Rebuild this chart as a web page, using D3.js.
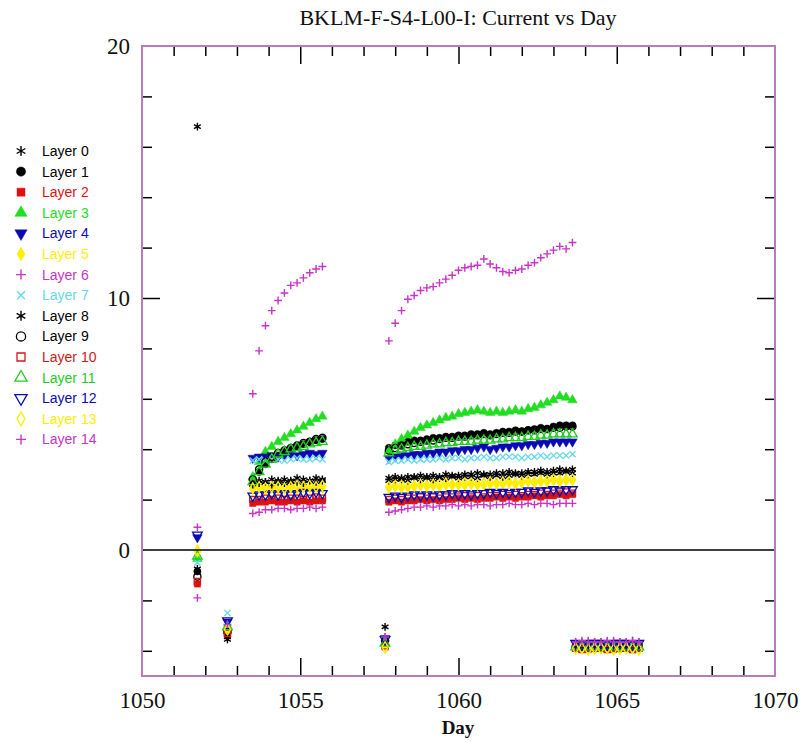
<!DOCTYPE html>
<html><head><meta charset="utf-8">
<script src="https://cdn.jsdelivr.net/npm/d3@7"></script>
<style>body{margin:0;background:#fff}</style></head>
<body><svg id="c" width="804" height="742"></svg>
<script>
const days=[1051.75,1052.7,
 1053.5,1053.7,1053.9,1054.1,1054.3,1054.5,1054.7,1054.9,1055.1,1055.3,1055.5,1055.7,
 1057.68,
 1057.8,1058,1058.2,1058.4,1058.6,1058.8,1059,1059.2,1059.4,1059.6,1059.8,1060,1060.2,1060.4,1060.6,1060.8,1061,1061.2,1061.4,1061.6,1061.8,1062,1062.2,1062.4,1062.6,1062.8,1063,1063.2,1063.4,1063.6,
 1063.7,1063.9,1064.1,1064.3,1064.5,1064.7,1064.9,1065.1,1065.3,1065.5,1065.7];

const layer0=[16.8,-3.55,
 2.7,2.75,2.7,2.8,2.75,2.8,2.7,2.85,2.8,2.75,2.85,2.8,
 -3.05,
 2.85,2.9,2.85,2.9,2.9,2.95,2.9,2.95,2.9,3.0,2.95,2.95,3.0,3.0,3.05,3.0,3.0,3.05,3.05,3.1,3.05,3.05,3.1,3.1,3.15,3.1,3.15,3.2,3.15,3.2,
 -3.8,-3.8,-3.85,-3.8,-3.8,-3.85,-3.8,-3.8,-3.85,-3.8,-3.8];
const layer1=[-0.85,-3.3,
 2.6,3.1,3.4,3.6,3.75,3.9,4.0,4.1,4.2,4.3,4.35,4.4,
 -3.6,
 4.05,4.15,4.2,4.3,4.35,4.35,4.4,4.45,4.45,4.5,4.5,4.55,4.55,4.6,4.6,4.65,4.6,4.65,4.7,4.7,4.75,4.7,4.75,4.8,4.85,4.8,4.9,4.95,4.95,4.95,
 -3.85,-3.85,-3.9,-3.85,-3.85,-3.85,-3.9,-3.85,-3.85,-3.9,-3.85];
const layer2=[-1.35,-3.35,
 1.85,1.9,1.9,1.95,1.9,1.9,1.95,1.9,1.95,1.9,1.95,1.95,
 -3.85,
 1.9,1.95,1.9,1.95,1.95,2.0,1.95,2.0,1.95,2.0,2.0,2.05,2.0,2.05,2.0,2.05,2.05,2.1,2.05,2.1,2.05,2.1,2.1,2.15,2.1,2.15,2.15,2.2,2.15,2.2,
 -3.9,-3.9,-3.95,-3.9,-3.9,-3.9,-3.95,-3.9,-3.9,-3.95,-3.9];
const layer3=[-0.35,-3.1,
 2.9,3.5,3.9,4.1,4.3,4.45,4.6,4.75,4.9,5.05,5.2,5.3,
 -3.7,
 3.95,4.2,4.4,4.55,4.7,4.85,4.95,5.05,5.15,5.25,5.3,5.4,5.45,5.5,5.55,5.5,5.45,5.5,5.45,5.5,5.55,5.5,5.6,5.65,5.75,5.85,5.95,6.1,6.05,5.95,
 -3.85,-3.85,-3.8,-3.85,-3.85,-3.85,-3.8,-3.85,-3.85,-3.8,-3.85];
const layer4=[0.5,-2.85,
 3.65,3.7,3.7,3.75,3.7,3.75,3.8,3.75,3.8,3.85,3.8,3.85,
 -3.5,
 3.65,3.7,3.75,3.75,3.8,3.8,3.85,3.85,3.9,3.9,3.95,3.95,4.0,4.0,4.05,4.1,4.0,4.05,4.1,4.1,4.15,4.15,4.2,4.2,4.25,4.25,4.3,4.3,4.3,4.3,
 -3.7,-3.7,-3.75,-3.7,-3.7,-3.7,-3.75,-3.7,-3.7,-3.75,-3.7];
const layer5=[0.0,-3.2,
 2.4,2.45,2.4,2.45,2.4,2.5,2.45,2.4,2.5,2.45,2.5,2.45,
 -3.9,
 2.45,2.5,2.45,2.5,2.5,2.55,2.5,2.55,2.5,2.55,2.55,2.6,2.55,2.6,2.6,2.55,2.6,2.65,2.6,2.65,2.6,2.65,2.7,2.65,2.7,2.7,2.75,2.7,2.75,2.75,
 -3.9,-3.9,-3.9,-3.95,-3.9,-3.9,-3.9,-3.95,-3.9,-3.9,-3.9];
const layer6=[0.9,-3.0,
 6.2,7.9,8.9,9.5,9.9,10.2,10.5,10.6,10.8,11.0,11.15,11.25,
 -3.45,
 8.3,9.0,9.5,9.95,10.1,10.3,10.4,10.45,10.6,10.75,10.9,11.1,11.2,11.25,11.3,11.55,11.35,11.2,11.05,11.0,11.1,11.15,11.3,11.4,11.6,11.75,11.9,12.05,11.95,12.2,
 -3.65,-3.65,-3.6,-3.65,-3.65,-3.65,-3.6,-3.65,-3.65,-3.6,-3.65];
const layer7=[-0.5,-2.5,
 3.55,3.6,3.55,3.6,3.6,3.55,3.6,3.65,3.6,3.6,3.65,3.6,
 -3.55,
 3.5,3.55,3.55,3.6,3.55,3.6,3.6,3.6,3.65,3.6,3.65,3.65,3.6,3.65,3.65,3.7,3.65,3.65,3.7,3.7,3.7,3.65,3.7,3.7,3.75,3.7,3.75,3.75,3.75,3.8,
 -3.8,-3.8,-3.8,-3.75,-3.8,-3.8,-3.8,-3.75,-3.8,-3.8,-3.8];
const layer8=[-0.75,-3.45,
 2.6,2.65,2.7,2.6,2.7,2.65,2.75,2.7,2.65,2.75,2.7,2.75,
 -3.65,
 2.75,2.8,2.8,2.75,2.85,2.8,2.85,2.8,2.85,2.85,2.9,2.85,2.9,2.9,2.85,2.95,2.9,2.95,2.9,2.95,3.0,2.95,3.0,3.0,3.05,3.0,3.05,3.05,3.1,3.05,
 -3.8,-3.85,-3.8,-3.8,-3.8,-3.85,-3.8,-3.8,-3.85,-3.8,-3.8];
const layer9=[-1.05,-3.25,
 2.8,3.2,3.5,3.7,3.85,3.95,4.05,4.15,4.25,4.3,4.4,4.45,
 -3.6,
 3.95,4.05,4.15,4.2,4.25,4.3,4.35,4.35,4.4,4.45,4.45,4.5,4.5,4.55,4.55,4.6,4.55,4.6,4.65,4.65,4.7,4.7,4.75,4.75,4.8,4.8,4.85,4.85,4.9,4.9,
 -3.85,-3.85,-3.85,-3.9,-3.85,-3.85,-3.85,-3.9,-3.85,-3.85,-3.85];
const layer10=[-1.25,-3.3,
 2.0,2.0,2.05,2.0,2.05,2.0,2.05,2.05,2.0,2.05,2.1,2.05,
 -3.8,
 2.0,2.05,2.0,2.05,2.05,2.1,2.05,2.1,2.05,2.1,2.1,2.1,2.15,2.1,2.15,2.1,2.15,2.15,2.2,2.15,2.2,2.15,2.2,2.2,2.25,2.2,2.25,2.25,2.3,2.25,
 -3.9,-3.95,-3.9,-3.9,-3.9,-3.95,-3.9,-3.9,-3.9,-3.95,-3.9];
const layer11=[-0.25,-3.05,
 2.7,3.1,3.4,3.6,3.8,3.9,4.0,4.05,4.1,4.2,4.25,4.3,
 -3.7,
 3.85,3.95,4.0,4.05,4.1,4.1,4.15,4.2,4.2,4.25,4.25,4.3,4.3,4.3,4.35,4.35,4.35,4.4,4.4,4.45,4.45,4.45,4.5,4.5,4.55,4.55,4.6,4.6,4.6,4.6,
 -3.85,-3.8,-3.85,-3.85,-3.85,-3.8,-3.85,-3.85,-3.85,-3.8,-3.85];
const layer12=[0.6,-2.8,
 2.15,2.2,2.2,2.25,2.2,2.25,2.2,2.25,2.3,2.25,2.3,2.25,
 -3.55,
 2.1,2.15,2.1,2.15,2.2,2.15,2.2,2.15,2.2,2.2,2.25,2.2,2.25,2.2,2.25,2.25,2.3,2.25,2.3,2.25,2.3,2.3,2.35,2.3,2.35,2.35,2.4,2.35,2.4,2.4,
 -3.7,-3.75,-3.7,-3.7,-3.7,-3.75,-3.7,-3.7,-3.7,-3.75,-3.7];
const layer13=[-0.05,-3.15,
 2.45,2.5,2.45,2.5,2.5,2.45,2.5,2.55,2.5,2.55,2.5,2.55,
 -3.85,
 2.5,2.55,2.55,2.5,2.55,2.6,2.55,2.6,2.6,2.65,2.6,2.6,2.65,2.65,2.6,2.65,2.7,2.65,2.7,2.7,2.65,2.7,2.75,2.7,2.75,2.75,2.8,2.75,2.8,2.8,
 -3.9,-3.9,-3.95,-3.9,-3.9,-3.9,-3.95,-3.9,-3.9,-3.9,-3.95];
const layer14=[-1.9,-2.95,
 1.45,1.5,1.6,1.6,1.65,1.65,1.6,1.65,1.65,1.7,1.65,1.7,
 -3.45,
 1.5,1.55,1.6,1.65,1.7,1.7,1.75,1.7,1.75,1.75,1.8,1.75,1.8,1.75,1.8,1.8,1.75,1.8,1.8,1.85,1.8,1.8,1.85,1.8,1.85,1.85,1.8,1.85,1.85,1.85,
 -3.65,-3.6,-3.65,-3.65,-3.65,-3.6,-3.65,-3.65,-3.65,-3.6,-3.65];

const layerNames=["Layer 0","Layer 1","Layer 2","Layer 3","Layer 4","Layer 5","Layer 6","Layer 7","Layer 8","Layer 9","Layer 10","Layer 11","Layer 12","Layer 13","Layer 14"];
const layerColors=["#000000","#000000","#e01010","#22dd22","#0a0ab4","#ffee00","#c833c8","#66d8ea","#000000","#000000","#d01818","#22cc22","#0a0ab4","#ffee00","#c833c8"];
const layerSymbols=["asterisk","circle","square","triangle","triangleDown","diamond","plus","cross","asterisk","circleOpen","squareOpen","triangleOpen","triangleDownOpen","diamondOpen","plus"];
const layerValues=[layer0,layer1,layer2,layer3,layer4,layer5,layer6,layer7,layer8,layer9,layer10,layer11,layer12,layer13,layer14];

const xMajorTicks=[1050,1055,1060,1065,1070];
const xMinorTicks=[1051,1052,1053,1054,1056,1057,1058,1059,1061,1062,1063,1064,1066,1067,1068,1069];
const yLabelTicks=[0,10,20];
const yMinorTicks=[-4,-2,2,4,6,8,12,14,16,18];
const titleText="BKLM-F-S4-L00-I: Current vs Day";
const xTitle="Day";

const svg=d3.select("#c");
const L=142,R=775,T=46,B=676;
const x=d3.scaleLinear().domain([1050,1070]).range([L,R]);
const y=d3.scaleLinear().domain([-5,20]).range([B,T]);

function symPath(type,s){
  const h=s;
  switch(type){
    case "asterisk": return `M0,${-h}L0,${h}M${-0.87*h},${-0.5*h}L${0.87*h},${0.5*h}M${-0.87*h},${0.5*h}L${0.87*h},${-0.5*h}`;
    case "plus": return `M${-h},0L${h},0M0,${-h}L0,${h}`;
    case "cross": {const k=h*0.8;return `M${-k},${-k}L${k},${k}M${-k},${k}L${k},${-k}`;}
    case "circle": case "circleOpen": return d3.symbol(d3.symbolCircle,Math.PI*h*h*0.85)();
    case "square": case "squareOpen": return d3.symbol(d3.symbolSquare,(1.6*h)*(1.6*h))();
    case "triangle": case "triangleOpen": return d3.symbol(d3.symbolTriangle,h*h*2.6)();
    case "triangleDown": case "triangleDownOpen": return d3.symbol(d3.symbolTriangle,h*h*2.6)();
    case "diamond": case "diamondOpen": return d3.symbol(d3.symbolDiamond,h*h*2.2)();
  }
}
function styleSym(sel,type,color){
  const filled=["circle","square","triangle","triangleDown","diamond"].includes(type);
  const lines=["asterisk","plus","cross"].includes(type);
  sel.attr("fill",filled?color:"none").attr("stroke",color)
     .attr("stroke-width",lines?1.4:(filled?0.5:1.3));
}
function rot(type){return type.startsWith("triangleDown")?" rotate(180)":"";}

// title
svg.append("text").attr("x",458).attr("y",25).attr("text-anchor","middle")
  .attr("font-family","Liberation Serif, serif").attr("font-size",22).attr("fill","#111").text(titleText);

// data
const gData=svg.append("g");
layerValues.forEach((vals,li)=>{
  const type=layerSymbols[li],col=layerColors[li];
  const g=gData.append("g");
  g.selectAll("path").data(days.map((d,i)=>[d,vals[i]])).join("path")
    .attr("d",symPath(type,3.9))
    .attr("transform",d=>`translate(${x(d[0])},${y(d[1])})${rot(type)}`)
    .call(styleSym,type,col);
});

// zero line
svg.append("line").attr("x1",L).attr("x2",R).attr("y1",y(0)).attr("y2",y(0)).attr("stroke","#000").attr("stroke-width",1.3);

// ticks
function tickAxis(axisFn,scale,vals,size,tx,ty){
  const a=axisFn(scale).tickValues(vals).tickSize(size).tickFormat("");
  const g=svg.append("g").attr("transform",`translate(${tx},${ty})`).call(a);
  g.select(".domain").remove();
  g.selectAll("line").attr("stroke","#000").attr("stroke-width",1.5);
}
tickAxis(d3.axisBottom,x,xMinorTicks,-10,0,B);
tickAxis(d3.axisBottom,x,[1055,1060,1065],-18,0,B);
tickAxis(d3.axisTop,x,xMinorTicks,-10,0,T);
tickAxis(d3.axisTop,x,[1055,1060,1065],-18,0,T);
tickAxis(d3.axisLeft,y,yMinorTicks,-10,L,0);
tickAxis(d3.axisLeft,y,[10],-18,L,0);
tickAxis(d3.axisRight,y,yMinorTicks,-10,R,0);
tickAxis(d3.axisRight,y,[10],-18,R,0);

// frame
svg.append("rect").attr("x",L).attr("y",T).attr("width",R-L).attr("height",B-T)
  .attr("fill","none").attr("stroke","#b87cb8").attr("stroke-width",2);

// labels
const xl=svg.append("g").attr("transform",`translate(0,${B})`)
  .call(d3.axisBottom(x).tickValues(xMajorTicks).tickSize(0).tickPadding(16).tickFormat(d3.format("d")));
xl.select(".domain").remove();
xl.selectAll("text").attr("font-family","Liberation Serif, serif").attr("font-size",23).attr("fill","#111");
const yl=svg.append("g").attr("transform",`translate(${L},0)`)
  .call(d3.axisLeft(y).tickValues(yLabelTicks).tickSize(0).tickPadding(12).tickFormat(d3.format("d")));
yl.select(".domain").remove();
yl.selectAll("text").attr("font-family","Liberation Serif, serif").attr("font-size",23).attr("fill","#111");

svg.append("text").attr("x",458).attr("y",734).attr("text-anchor","middle")
  .attr("font-family","Liberation Serif, serif").attr("font-size",19).attr("font-weight","bold").attr("fill","#111").text(xTitle);

// legend
const leg=svg.append("g");
layerNames.forEach((n,i)=>{
  const yy=151+i*20.6, type=layerSymbols[i], col=layerColors[i];
  leg.append("path").attr("d",symPath(type,5)).attr("transform",`translate(21,${yy})${rot(type)}`).call(styleSym,type,col);
  leg.append("text").attr("x",42).attr("y",yy+5).attr("font-family","Liberation Sans, Arial, sans-serif")
    .attr("font-size",14).attr("fill",col).text(n);
});
</script></body></html>
